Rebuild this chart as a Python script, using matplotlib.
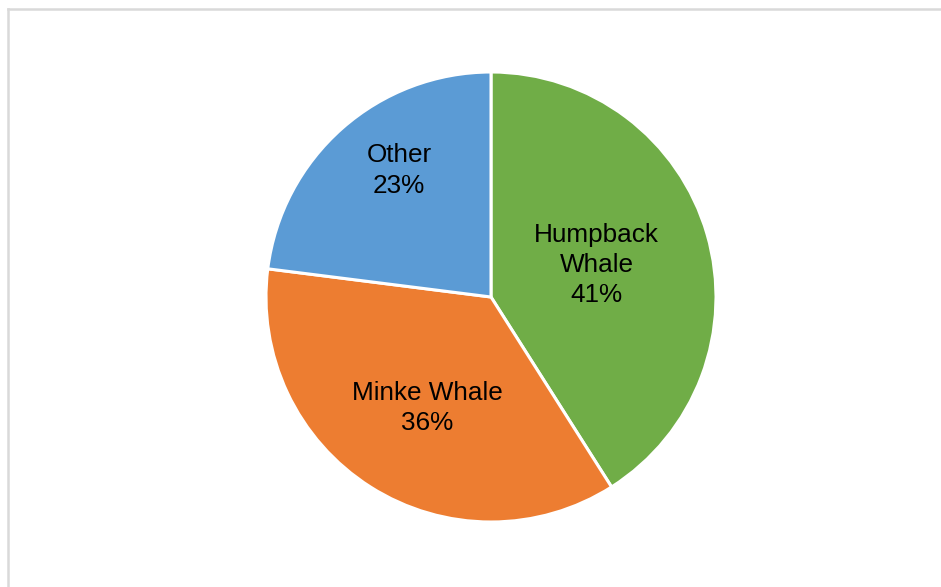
import matplotlib
matplotlib.use("Agg")
import matplotlib.pyplot as plt
import numpy as np

# Share of sightings by species
species = ["Humpback\nWhale", "Minke Whale", "Other"]
shares = [41, 36, 23]
colors = ["#70AD47", "#ED7D31", "#5B9BD5"]

# Label placement: fraction of radius and angular nudge (degrees) from wedge middle
label_radius = [0.49, 0.57, 0.695]
label_nudge = [0.6, 2.4, -5.4]

W, H = 941, 587
fig = plt.figure(figsize=(W / 100, H / 100), dpi=100)
ax = fig.add_axes([0, 0, 1, 1])

cx, cy, R = 491, H - 297, 225
wedges, _ = ax.pie(
    shares,
    colors=colors,
    startangle=90,
    counterclock=False,
    center=(cx, cy),
    radius=R,
    wedgeprops=dict(edgecolor="white", linewidth=2.2),
    frame=True,
)
ax.set_xlim(0, W)
ax.set_ylim(0, H)
ax.set_aspect("equal")
ax.axis("off")

total = sum(shares)
for w, name, val, frac, nudge in zip(wedges, species, shares, label_radius, label_nudge):
    mid = np.deg2rad((w.theta1 + w.theta2) / 2 + nudge)
    x = cx + frac * R * np.cos(mid)
    y = cy + frac * R * np.sin(mid)
    ax.text(x, y, f"{name}\n{round(100 * val / total)}%", ha="center", va="center",
            fontsize=18.8, family="Liberation Sans", color="black", linespacing=1.32)

# Light chart-area border along top and left
border = "#D9D9D9"
fig.add_artist(plt.Line2D([8 / W, 1], [1 - 9 / H, 1 - 9 / H], transform=fig.transFigure,
                          color=border, linewidth=1.8))
fig.add_artist(plt.Line2D([8 / W, 8 / W], [0, 1 - 9 / H], transform=fig.transFigure,
                          color=border, linewidth=1.8))

fig.savefig("out.png", dpi=100, facecolor="white")
